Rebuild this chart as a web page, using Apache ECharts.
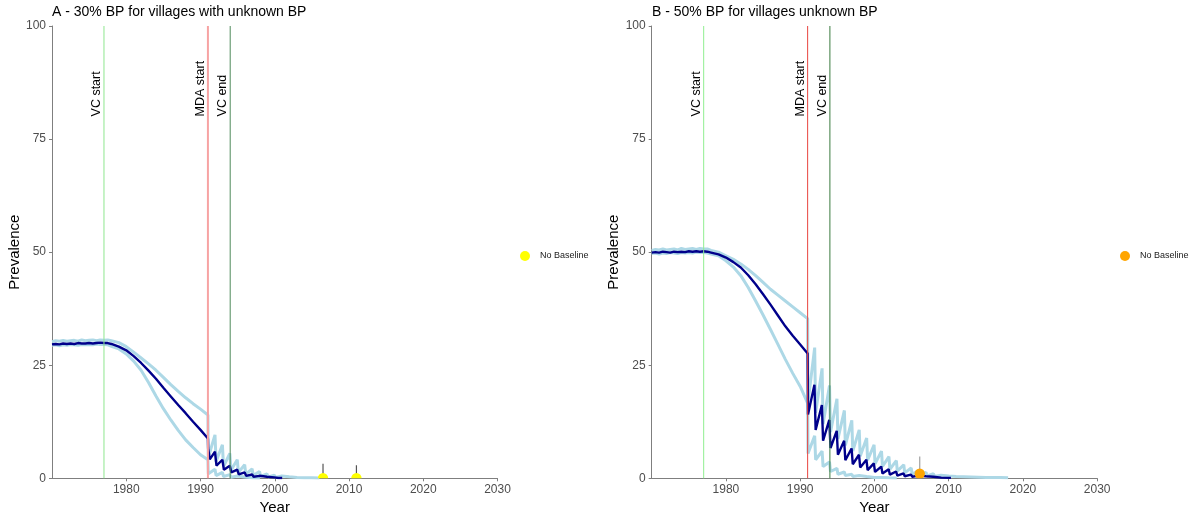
<!DOCTYPE html>
<html>
<head>
<meta charset="utf-8">
<script src="https://cdn.jsdelivr.net/npm/echarts@6/dist/echarts.min.js"></script>
<style>
  html, body { margin: 0; padding: 0; background: #ffffff; }
  #chart { width: 1195px; height: 515px; }
</style>
</head>
<body>
<div id="chart"></div>
<script>
// ---- axes ----
const yearTicks = [1980, 1990, 2000, 2010, 2020, 2030];
const prevalenceTicks = [0, 25, 50, 75, 100];

// ---- intervention events (same for both panels) ----
const eventYears = [1977, 1991, 1994];
const eventLabels = ['VC start', 'MDA start', 'VC end'];
const eventLabelAt = 80;

// ---- panel A: 30% baseline prevalence, [year, prevalence] ----
const meanA = [
  [1970, 29.6], [1970.5, 29.7], [1971, 29.6], [1971.5, 29.8], [1972, 29.7], [1972.5, 29.8],
  [1973, 29.7], [1973.5, 29.9], [1974, 29.8], [1974.5, 29.8], [1975, 29.9], [1975.5, 29.8],
  [1976, 29.9], [1976.5, 30.0], [1977, 29.9], [1977.5, 29.9], [1978, 29.7], [1979, 29.1],
  [1980, 28.3], [1981, 27.0], [1982, 25.5], [1983, 23.8], [1984, 22.0], [1985, 20.0],
  [1986, 18.1], [1987, 16.2], [1988, 14.4], [1989, 12.5], [1990, 10.7], [1991, 8.8],
  [1991.03, 6.6], [1991.25, 4.2], [1991.95, 5.9], [1992.15, 2.8], [1992.95, 4.1], [1993.15, 1.9],
  [1993.95, 2.8], [1994.15, 1.3], [1994.95, 1.9], [1995.15, 0.85], [1995.95, 1.3], [1996.15, 0.55],
  [1996.95, 0.85], [1997.15, 0.35], [1997.95, 0.55], [1998.15, 0.2], [1998.95, 0.35], [1999.15, 0.12],
  [1999.95, 0.2], [2000.5, 0.08], [2001, 0.05]
];
const upperA = [
  [1970, 30.2], [1970.5, 30.4], [1971, 30.3], [1971.5, 30.5], [1972, 30.3], [1972.5, 30.4],
  [1973, 30.5], [1973.5, 30.3], [1974, 30.6], [1974.5, 30.4], [1975, 30.5], [1975.5, 30.6],
  [1976, 30.4], [1976.5, 30.6], [1977, 30.5], [1977.5, 30.6], [1978, 30.4], [1979, 30.0],
  [1980, 29.1], [1981, 27.9], [1982, 26.6], [1983, 25.3], [1984, 23.9], [1985, 22.3],
  [1986, 20.7], [1987, 19.2], [1988, 17.8], [1989, 16.5], [1990, 15.3], [1991, 14.0],
  [1991.05, 4.6], [1991.95, 9.6], [1992.1, 3.7], [1992.95, 7.4], [1993.1, 2.6], [1993.95, 5.5],
  [1994.1, 1.8], [1994.95, 4.1], [1995.1, 1.3], [1995.95, 3.0], [1996.1, 0.9], [1996.95, 2.1],
  [1997.1, 0.6], [1997.95, 1.5], [1998.1, 0.4], [1998.95, 1.0], [1999.1, 0.3], [1999.95, 0.7],
  [2000.1, 0.2], [2000.95, 0.5], [2001.1, 0.15], [2001.95, 0.35], [2002.1, 0.12], [2003, 0.2],
  [2004, 0.12], [2005, 0.1], [2006, 0.06]
];
const lowerA = [
  [1970, 29.4], [1970.5, 29.5], [1971, 29.3], [1971.5, 29.5], [1972, 29.4], [1972.5, 29.6],
  [1973, 29.5], [1973.5, 29.4], [1974, 29.6], [1974.5, 29.5], [1975, 29.6], [1975.5, 29.5],
  [1976, 29.7], [1976.5, 29.6], [1977, 29.6], [1977.5, 29.5], [1978, 29.2], [1979, 28.6],
  [1980, 27.5], [1981, 25.9], [1982, 23.9], [1983, 21.2], [1984, 18.2], [1985, 15.4],
  [1986, 12.9], [1987, 10.6], [1988, 8.5], [1989, 6.8], [1990, 5.2], [1991, 4.1],
  [1991.05, 1.0], [1991.95, 2.0], [1992.1, 0.6], [1992.95, 1.3], [1993.1, 0.4], [1993.95, 0.8],
  [1994.1, 0.25], [1994.95, 0.5], [1995.1, 0.15], [1995.95, 0.3], [1996.1, 0.1], [1997, 0.12],
  [1998, 0.06]
];
const baselineYearsA = [2006.5, 2011.0];
const baselineValuesA = [0, 0];
const baselineUpperA = [3.2, 2.9];

// ---- panel B: 50% baseline prevalence, [year, prevalence] ----
const meanB = [
  [1970, 49.9], [1970.5, 50.0], [1971, 49.9], [1971.5, 50.1], [1972, 50.0], [1972.5, 49.9],
  [1973, 50.1], [1973.5, 50.0], [1974, 50.1], [1974.5, 50.0], [1975, 50.2], [1975.5, 50.1],
  [1976, 50.2], [1976.5, 50.1], [1977, 50.2], [1977.5, 50.1], [1978, 49.9], [1979, 49.5],
  [1980, 48.8], [1981, 47.8], [1982, 46.6], [1983, 44.9], [1984, 42.9], [1985, 40.7],
  [1986, 38.4], [1987, 36.0], [1988, 33.6], [1989, 31.5], [1990, 29.6], [1991, 27.6],
  [1991.05, 14.1], [1991.92, 20.7], [1992.08, 10.7], [1992.92, 16.2], [1993.08, 8.3], [1993.92, 12.9],
  [1994.08, 6.7], [1994.92, 10.5], [1995.08, 5.2], [1995.92, 8.3], [1996.08, 4.0], [1996.92, 6.6],
  [1997.08, 3.1], [1997.92, 5.2], [1998.08, 2.4], [1998.92, 4.1], [1999.08, 1.8], [1999.92, 3.3],
  [2000.08, 1.4], [2000.92, 2.6], [2001.08, 1.05], [2001.92, 2.0], [2002.08, 0.8], [2002.92, 1.5],
  [2003.08, 0.6], [2003.92, 1.1], [2004.08, 0.45], [2004.92, 0.8], [2005.08, 0.35], [2005.92, 0.6],
  [2006.08, 0.25], [2006.92, 0.45], [2007.08, 0.2], [2007.92, 0.35], [2008.1, 0.15], [2009, 0.15],
  [2010.3, 0.1]
];
const upperB = [
  [1970, 50.4], [1970.5, 50.6], [1971, 50.5], [1971.5, 50.7], [1972, 50.5], [1972.5, 50.6],
  [1973, 50.7], [1973.5, 50.5], [1974, 50.8], [1974.5, 50.6], [1975, 50.7], [1975.5, 50.8],
  [1976, 50.6], [1976.5, 50.8], [1977, 50.7], [1977.5, 50.7], [1978, 50.4], [1979, 50.0],
  [1980, 49.2], [1981, 48.4], [1982, 47.4], [1983, 46.2], [1984, 44.8], [1985, 43.3],
  [1986, 41.8], [1987, 40.5], [1988, 39.2], [1989, 37.9], [1990, 36.6], [1991, 35.3],
  [1991.05, 16.8], [1991.95, 28.9], [1992.08, 14.5], [1992.95, 24.3], [1993.08, 12.0], [1993.95, 20.5],
  [1994.08, 10.2], [1994.95, 17.6], [1995.08, 8.7], [1995.95, 15.0], [1996.08, 7.3], [1996.95, 12.8],
  [1997.08, 6.0], [1997.95, 10.7], [1998.08, 4.9], [1998.95, 8.9], [1999.08, 4.0], [1999.95, 7.4],
  [2000.08, 3.2], [2000.95, 6.0], [2001.08, 2.6], [2001.95, 4.8], [2002.08, 2.0], [2002.95, 3.9],
  [2003.08, 1.6], [2003.95, 3.0], [2004.08, 1.2], [2004.95, 2.3], [2005.08, 0.9], [2005.95, 1.7],
  [2006.08, 0.7], [2006.95, 1.3], [2007.08, 0.5], [2007.95, 1.0], [2008.08, 0.4], [2008.95, 0.7],
  [2009.1, 0.3], [2010, 0.5], [2011, 0.4], [2012, 0.35], [2013, 0.3], [2014, 0.25],
  [2015, 0.2], [2016, 0.2], [2017, 0.15], [2018, 0.1]
];
const lowerB = [
  [1970, 49.7], [1970.5, 49.8], [1971, 49.6], [1971.5, 49.8], [1972, 49.7], [1972.5, 49.9],
  [1973, 49.8], [1973.5, 49.7], [1974, 49.9], [1974.5, 49.8], [1975, 49.9], [1975.5, 49.8],
  [1976, 50.0], [1976.5, 49.9], [1977, 49.9], [1977.5, 49.8], [1978, 49.6], [1979, 49.2],
  [1980, 48.1], [1981, 46.7], [1982, 44.8], [1983, 42.2], [1984, 39.2], [1985, 36.1],
  [1986, 32.9], [1987, 29.6], [1988, 26.3], [1989, 23.2], [1990, 20.3], [1991, 16.6],
  [1991.05, 5.5], [1991.95, 9.4], [1992.08, 4.1], [1992.95, 6.0], [1993.08, 2.6], [1993.95, 3.6],
  [1994.08, 1.5], [1994.95, 2.2], [1995.08, 0.9], [1995.95, 1.4], [1996.08, 0.6], [1996.95, 0.9],
  [1997.08, 0.4], [1997.95, 0.6], [1998.08, 0.3], [1998.95, 0.4], [1999.1, 0.2], [2000, 0.2],
  [2001, 0.15], [2002, 0.1], [2003, 0.08]
];
const baselineYearsB = [2006.1];
const baselineValuesB = [1.0];
const baselineUpperB = [4.8];

// ---- styling ----
const FONT = '"Liberation Sans", Arial, Helvetica, sans-serif';
const DARK = '#00008B';
const LIGHT = '#ADD8E6';

function eventRenderer(colors, widths) {
  return function (params, api) {
    const x = api.value(0);
    const i = api.value(1);
    const top = api.coord([x, 100]);
    const bottom = api.coord([x, 0]);
    const anchor = api.coord([x, eventLabelAt]);
    return {
      type: 'group',
      children: [
        {
          type: 'line',
          shape: { x1: top[0], y1: top[1], x2: bottom[0], y2: bottom[1] },
          style: { stroke: colors[i], lineWidth: widths[i] }
        },
        {
          type: 'text',
          x: anchor[0] - 1,
          y: anchor[1],
          rotation: Math.PI / 2,
          style: {
            text: eventLabels[i],
            fill: '#000000',
            font: '12.5px ' + FONT,
            align: 'left',
            verticalAlign: 'bottom'
          }
        }
      ]
    };
  };
}

function baselineRenderer(dotColor, barColor) {
  return function (params, api) {
    const x = api.value(0);
    const p = api.coord([x, api.value(1)]);
    const lo = api.coord([x, api.value(2)]);
    const hi = api.coord([x, api.value(3)]);
    return {
      type: 'group',
      children: [
        {
          type: 'line',
          shape: { x1: lo[0], y1: lo[1], x2: hi[0], y2: hi[1] },
          style: { stroke: barColor, lineWidth: 1.2 }
        },
        {
          type: 'circle',
          shape: { cx: p[0], cy: p[1], r: 5.2 },
          style: { fill: dotColor }
        }
      ]
    };
  };
}

function baselineData(years, values, upper) {
  return years.map((yr, i) => [yr, values[i], 0, upper[i]]);
}

function xAxisFor(gridIndex) {
  return {
    type: 'value', gridIndex, min: 1970, max: 2030, interval: 10,
    name: 'Year', nameLocation: 'middle', nameGap: 20,
    nameTextStyle: { fontFamily: FONT, fontSize: 15, color: '#000000' },
    axisLine: { show: true, lineStyle: { color: '#7f7f7f', width: 1 } },
    axisTick: { show: true, length: 3, customValues: yearTicks, lineStyle: { color: '#7f7f7f' } },
    axisLabel: {
      customValues: yearTicks, margin: 5, fontFamily: FONT, fontSize: 12, color: '#4d4d4d',
      formatter: v => (yearTicks.indexOf(v) >= 0 ? String(v) : '')
    },
    splitLine: { show: false }
  };
}

function yAxisFor(gridIndex) {
  return {
    type: 'value', gridIndex, min: 0, max: 100, interval: 25,
    name: 'Prevalence', nameLocation: 'middle', nameGap: 27,
    nameTextStyle: { fontFamily: FONT, fontSize: 15, color: '#000000' },
    axisLine: { show: true, lineStyle: { color: '#7f7f7f', width: 1 } },
    axisTick: { show: true, length: 3, lineStyle: { color: '#7f7f7f' } },
    axisLabel: {
      margin: 6, fontFamily: FONT, fontSize: 12, color: '#4d4d4d',
      formatter: v => (prevalenceTicks.indexOf(v) >= 0 ? String(v) : '')
    },
    splitLine: { show: false }
  };
}

function lineSeries(data, color, width, idx, z) {
  return {
    type: 'line', data, xAxisIndex: idx, yAxisIndex: idx,
    showSymbol: false, symbol: 'none', clip: true, z,
    lineStyle: { color, width }, silent: true
  };
}

const eventSeriesData = eventYears.map((yr, i) => [yr, i]);

const chart = echarts.init(document.getElementById('chart'), null, { renderer: 'canvas' });
chart.setOption({
  animation: false,
  backgroundColor: '#ffffff',
  title: [
    { text: 'A - 30% BP for villages with unknown BP', left: 52, top: 5, padding: 0,
      textStyle: { fontFamily: FONT, fontSize: 14, fontWeight: 'normal', color: '#000000' } },
    { text: 'B - 50% BP for villages unknown BP', left: 652, top: 5, padding: 0,
      textStyle: { fontFamily: FONT, fontSize: 14, fontWeight: 'normal', color: '#000000' } }
  ],
  legend: [
    { data: ['No Baseline (A)'], left: 520, top: 251, padding: 0, icon: 'circle',
      itemWidth: 20, itemHeight: 10, selectedMode: false, formatter: () => 'No Baseline',
      textStyle: { fontFamily: FONT, fontSize: 9, color: '#1a1a1a' } },
    { data: ['No Baseline (B)'], left: 1120, top: 251, padding: 0, icon: 'circle',
      itemWidth: 20, itemHeight: 10, selectedMode: false, formatter: () => 'No Baseline',
      textStyle: { fontFamily: FONT, fontSize: 9, color: '#1a1a1a' } }
  ],
  grid: [
    { left: 52, top: 26, width: 445.5, height: 452.3, containLabel: false, outerBoundsMode: 'none' },
    { left: 651.7, top: 26, width: 445.5, height: 452.3, containLabel: false, outerBoundsMode: 'none' }
  ],
  xAxis: [xAxisFor(0), xAxisFor(1)],
  yAxis: [yAxisFor(0), yAxisFor(1)],
  series: [
    // panel A
    lineSeries(upperA, LIGHT, 3, 0, 2),
    lineSeries(lowerA, LIGHT, 3, 0, 2),
    lineSeries(meanA, DARK, 2.4, 0, 3),
    {
      type: 'custom', xAxisIndex: 0, yAxisIndex: 0, z: 4, silent: true,
      data: eventSeriesData,
      renderItem: eventRenderer(['#8ee68e', '#f7a3a3', '#4f8a5a'], [1, 2, 1])
    },
    {
      type: 'custom', name: 'No Baseline (A)', xAxisIndex: 0, yAxisIndex: 0, z: 5, clip: true,
      silent: true, itemStyle: { color: '#ffff00' },
      data: baselineData(baselineYearsA, baselineValuesA, baselineUpperA),
      renderItem: baselineRenderer('#ffff00', '#555555')
    },
    // panel B
    lineSeries(upperB, LIGHT, 3, 1, 2),
    lineSeries(lowerB, LIGHT, 3, 1, 2),
    lineSeries(meanB, DARK, 2.4, 1, 3),
    {
      type: 'custom', xAxisIndex: 1, yAxisIndex: 1, z: 4, silent: true,
      data: eventSeriesData,
      renderItem: eventRenderer(['#90ee90', '#e8453f', '#3a7a3f'], [1, 1, 1])
    },
    {
      type: 'custom', name: 'No Baseline (B)', xAxisIndex: 1, yAxisIndex: 1, z: 5, clip: true,
      silent: true, itemStyle: { color: '#ffa500' },
      data: baselineData(baselineYearsB, baselineValuesB, baselineUpperB),
      renderItem: baselineRenderer('#ffa500', '#a0a0a0')
    }
  ]
});
</script>
</body>
</html>
